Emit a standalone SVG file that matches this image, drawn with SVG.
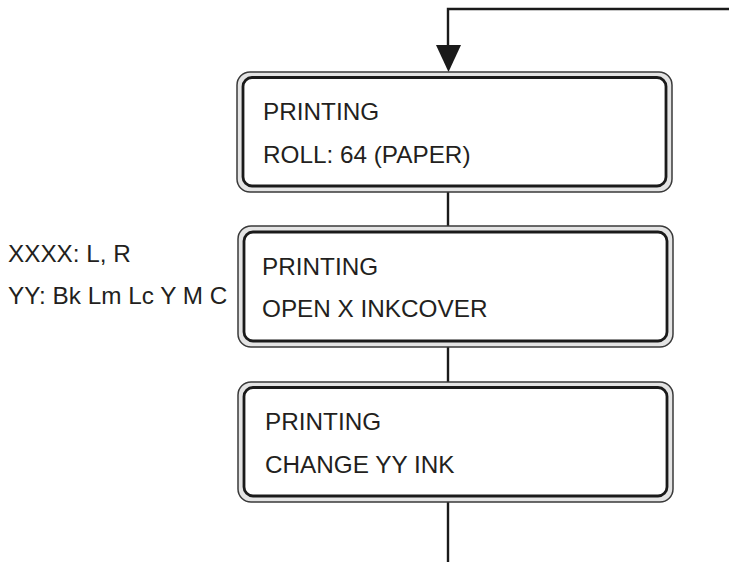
<svg xmlns="http://www.w3.org/2000/svg" width="729" height="562" viewBox="0 0 729 562">
<style>
.outer{fill:#e4e4e4;stroke:#3a3a3a;stroke-width:1.5}
.inner{fill:#fff;stroke:#1a1a1a;stroke-width:2.8}
.t{font-family:"Liberation Sans",Arial,sans-serif;font-size:24.3px;fill:#231f20}
.c{stroke:#1a1a1a;stroke-width:2.4;fill:none}
</style>
<rect width="729" height="562" fill="#fff"/>
<g id="connectors">
<path class="c" d="M729 9 H448 V46"/>
<polygon points="436,45 461,45 448.5,72" fill="#1a1a1a"/>
<line class="c" x1="448" y1="192" x2="448" y2="226"/>
<line class="c" x1="448" y1="347" x2="448" y2="382"/>
<line class="c" x1="448" y1="502" x2="448" y2="562"/>
</g>
<g id="box1">
<rect class="outer" x="237" y="72" width="435" height="120" rx="13"/>
<rect class="inner" x="243" y="77.5" width="423" height="108.5" rx="9"/>
<text class="t" x="263" y="120">PRINTING</text>
<text class="t" x="263" y="163">ROLL: 64 (PAPER)</text>
</g>
<g id="box2">
<rect class="outer" x="238" y="226" width="435" height="121" rx="13"/>
<rect class="inner" x="244" y="232" width="423" height="109" rx="9"/>
<text class="t" x="262" y="275">PRINTING</text>
<text class="t" x="262" y="317">OPEN X INKCOVER</text>
</g>
<g id="box3">
<rect class="outer" x="238" y="382" width="435" height="120" rx="13"/>
<rect class="inner" x="244" y="387.5" width="423" height="108.5" rx="9"/>
<text class="t" x="265" y="430">PRINTING</text>
<text class="t" x="265" y="473">CHANGE YY INK</text>
</g>
<g id="legend">
<text class="t" x="8" y="262">XXXX: L, R</text>
<text class="t" x="8" y="304">YY: Bk Lm Lc Y M C</text>
</g>
</svg>
